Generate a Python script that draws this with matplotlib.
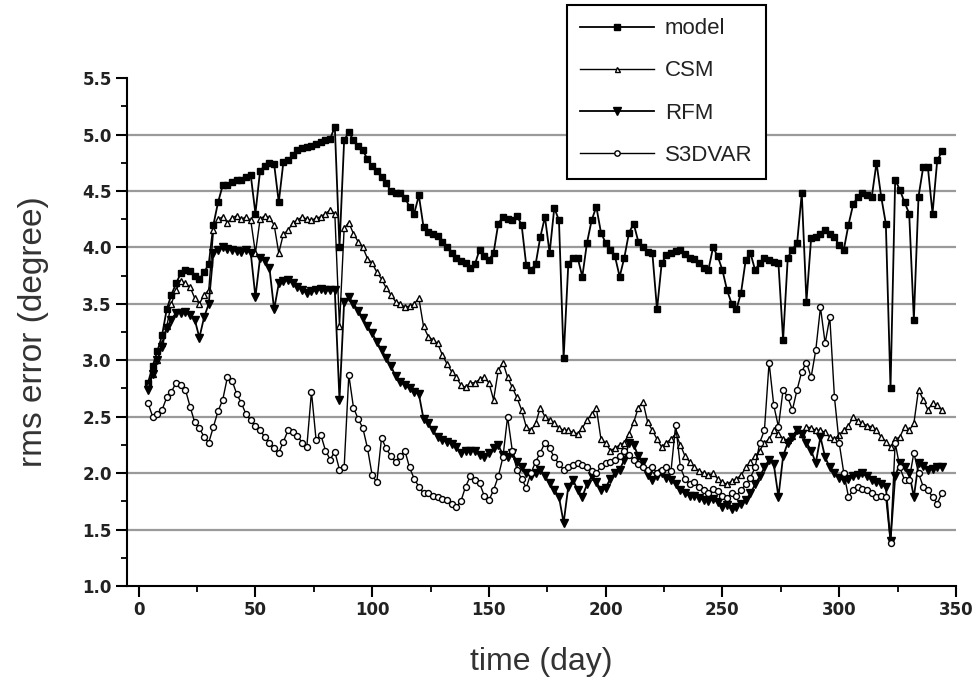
import matplotlib
matplotlib.use('Agg')
import matplotlib.pyplot as plt
from matplotlib.ticker import MultipleLocator
import numpy as np

plt.rcParams.update({'font.family': ['Liberation Sans', 'DejaVu Sans']})

# daily rms error, read every second day (day 4 .. 344)
days = np.arange(4, 346, 2)

model = [
    2.80, 2.95, 3.08, 3.22, 3.45, 3.58, 3.68, 3.77, 3.80, 3.79,
    3.75, 3.72, 3.78, 3.85, 4.20, 4.40, 4.55, 4.55, 4.58, 4.60,
    4.60, 4.62, 4.64, 4.30, 4.68, 4.72, 4.75, 4.74, 4.40, 4.76,
    4.77, 4.82, 4.86, 4.88, 4.89, 4.90, 4.92, 4.93, 4.95, 4.96,
    5.07, 4.00, 4.95, 5.02, 4.95, 4.90, 4.86, 4.78, 4.72, 4.68,
    4.62, 4.57, 4.50, 4.48, 4.48, 4.44, 4.36, 4.30, 4.46, 4.18,
    4.14, 4.12, 4.10, 4.05, 4.00, 3.95, 3.91, 3.88, 3.86, 3.82,
    3.85, 3.98, 3.92, 3.89, 3.95, 4.21, 4.27, 4.25, 4.24, 4.28,
    4.20, 3.84, 3.80, 3.85, 4.09, 4.27, 3.95, 4.35, 4.24, 3.02,
    3.85, 3.91, 3.91, 3.74, 4.04, 4.24, 4.36, 4.13, 4.04, 3.98,
    3.92, 3.74, 3.91, 4.13, 4.21, 4.05, 4.00, 3.96, 3.95, 3.45,
    3.86, 3.93, 3.95, 3.97, 3.98, 3.94, 3.91, 3.90, 3.86, 3.82,
    3.80, 4.00, 3.92, 3.80, 3.62, 3.50, 3.45, 3.60, 3.89, 3.95,
    3.80, 3.86, 3.91, 3.89, 3.87, 3.86, 3.18, 3.91, 3.98, 4.04,
    4.48, 3.52, 4.08, 4.09, 4.12, 4.15, 4.12, 4.09, 4.02, 3.98,
    4.20, 4.38, 4.45, 4.48, 4.46, 4.45, 4.75, 4.45, 4.21, 2.75,
    4.60, 4.51, 4.40, 4.30, 3.36, 4.45, 4.71, 4.71, 4.30, 4.77,
    4.85,
]

csm = [
    2.78, 2.88, 3.00, 3.15, 3.30, 3.50, 3.62, 3.70, 3.68, 3.65,
    3.55, 3.50, 3.58, 3.62, 4.15, 4.25, 4.27, 4.22, 4.26, 4.28,
    4.25, 4.27, 4.24, 3.95, 4.25, 4.28, 4.26, 4.20, 3.95, 4.12,
    4.15, 4.22, 4.24, 4.27, 4.25, 4.24, 4.26, 4.27, 4.30, 4.33,
    4.30, 3.30, 4.17, 4.22, 4.12, 4.05, 4.00, 3.90, 3.86, 3.78,
    3.72, 3.64, 3.58, 3.52, 3.50, 3.47, 3.48, 3.50, 3.55, 3.30,
    3.21, 3.18, 3.15, 3.05, 2.97, 2.90, 2.85, 2.78, 2.76, 2.80,
    2.80, 2.83, 2.85, 2.80, 2.65, 2.91, 2.98, 2.85, 2.76, 2.67,
    2.56, 2.41, 2.38, 2.44, 2.58, 2.50, 2.47, 2.44, 2.40, 2.38,
    2.38, 2.36, 2.35, 2.40, 2.47, 2.52, 2.58, 2.30, 2.27, 2.20,
    2.22, 2.25, 2.27, 2.35, 2.45, 2.58, 2.63, 2.45, 2.38, 2.30,
    2.23, 2.27, 2.30, 2.35, 2.25, 2.15, 2.10, 2.05, 2.02, 2.00,
    1.98, 2.00, 1.95, 1.92, 1.90, 1.93, 1.95, 1.98, 2.05, 2.10,
    2.15, 2.20, 2.27, 2.30, 2.38, 2.35, 2.30, 2.29, 2.33, 2.38,
    2.35, 2.41, 2.40, 2.38, 2.38, 2.36, 2.32, 2.30, 2.34, 2.38,
    2.42, 2.50, 2.46, 2.44, 2.42, 2.41, 2.38, 2.32, 2.28, 2.23,
    2.30, 2.32, 2.41, 2.38, 2.44, 2.74, 2.65, 2.56, 2.62, 2.60,
    2.56,
]

rfm = [
    2.74, 2.88, 3.00, 3.12, 3.29, 3.36, 3.42, 3.42, 3.43, 3.40,
    3.36, 3.20, 3.38, 3.50, 3.95, 3.98, 4.00, 3.99, 3.98, 3.97,
    3.96, 3.98, 3.95, 3.56, 3.91, 3.88, 3.82, 3.45, 3.68, 3.70,
    3.71, 3.68, 3.65, 3.62, 3.60, 3.61, 3.62, 3.63, 3.62, 3.62,
    3.62, 2.65, 3.52, 3.56, 3.50, 3.44, 3.37, 3.30, 3.24, 3.16,
    3.09, 3.02, 2.95, 2.86, 2.81, 2.78, 2.75, 2.72, 2.70, 2.48,
    2.44, 2.38, 2.32, 2.29, 2.28, 2.26, 2.23, 2.18, 2.20, 2.20,
    2.20, 2.16, 2.14, 2.18, 2.22, 2.25, 2.16, 2.14, 2.18, 2.10,
    2.05, 2.00, 1.97, 2.00, 2.03, 1.97, 1.91, 1.85, 1.79, 1.56,
    1.88, 1.94, 1.85, 1.79, 1.90, 1.97, 1.92, 1.85, 1.87, 1.95,
    2.00, 2.03, 2.12, 2.27, 2.25, 2.15, 2.10, 1.98, 1.94, 1.97,
    2.00, 1.96, 1.94, 1.90, 1.85, 1.82, 1.80, 1.80, 1.78, 1.76,
    1.75, 1.77, 1.74, 1.70, 1.72, 1.68, 1.70, 1.73, 1.76, 1.82,
    1.90, 1.97, 2.05, 2.12, 2.08, 1.79, 2.15, 2.27, 2.32, 2.38,
    2.35, 2.27, 2.20, 2.09, 2.32, 2.14, 2.05, 2.00, 1.96, 1.94,
    1.95, 1.97, 1.98, 2.00, 1.97, 1.94, 1.92, 1.90, 1.88, 1.40,
    1.97, 2.09, 2.05, 2.00, 1.79, 2.09, 2.06, 2.03, 2.04, 2.05,
    2.05,
]

s3dvar = [
    2.62, 2.50, 2.52, 2.56, 2.67, 2.72, 2.80, 2.78, 2.74, 2.59,
    2.45, 2.40, 2.32, 2.27, 2.41, 2.55, 2.65, 2.85, 2.82, 2.70,
    2.62, 2.52, 2.47, 2.42, 2.38, 2.32, 2.27, 2.22, 2.18, 2.28,
    2.38, 2.36, 2.33, 2.27, 2.23, 2.72, 2.29, 2.34, 2.20, 2.12,
    2.19, 2.03, 2.05, 2.87, 2.58, 2.48, 2.40, 2.22, 1.98, 1.92,
    2.31, 2.22, 2.15, 2.10, 2.15, 2.20, 2.05, 1.95, 1.88, 1.82,
    1.82, 1.80, 1.79, 1.77, 1.76, 1.73, 1.70, 1.75, 1.88, 1.97,
    1.94, 1.91, 1.80, 1.76, 1.85, 1.97, 2.14, 2.50, 2.20, 2.03,
    1.95, 1.87, 2.00, 2.10, 2.18, 2.27, 2.22, 2.14, 2.08, 2.03,
    2.05, 2.07, 2.09, 2.07, 2.05, 2.02, 2.00, 2.06, 2.09, 2.10,
    2.12, 2.15, 2.20, 2.16, 2.12, 2.08, 2.05, 2.03, 2.05, 2.00,
    2.03, 2.05, 2.02, 2.43, 2.05, 1.95, 1.90, 1.92, 1.88, 1.85,
    1.82, 1.86, 1.84, 1.80, 1.78, 1.82, 1.80, 1.85, 1.90, 1.96,
    2.05, 2.27, 2.38, 2.98, 2.60, 2.41, 2.74, 2.67, 2.56, 2.74,
    2.90, 2.98, 2.85, 3.09, 3.47, 3.15, 3.38, 2.67, 2.27, 2.00,
    1.79, 1.85, 1.88, 1.86, 1.85, 1.82, 1.79, 1.80, 1.79, 1.38,
    2.27, 2.05, 1.94, 1.94, 2.18, 2.00, 1.88, 1.85, 1.79, 1.73,
    1.82,
]

fig = plt.figure(figsize=(9.74, 6.79), dpi=100)
ax = fig.add_axes([0.1304, 0.137, 0.851, 0.748])

for y in np.arange(1.5, 5.01, 0.5):
    ax.axhline(y, color='#9a9a9a', lw=1.6, zorder=0)

ax.plot(days, model, '-', color='black', lw=1.3, marker='s', ms=5,
        mfc='black', mec='black', label='model', zorder=2)
ax.plot(days, csm, '-', color='black', lw=1.0, marker='^', ms=4,
        mfc='white', mec='black', mew=1.0, label='CSM', zorder=3)
ax.plot(days, rfm, '-', color='black', lw=1.3, marker='v', ms=6,
        mfc='black', mec='black', label='RFM', zorder=4)
ax.plot(days, s3dvar, '-', color='black', lw=1.0, marker='o', ms=4.3,
        mfc='white', mec='black', mew=1.0, label='S3DVAR', zorder=5)

ax.set_xlim(-5, 350)
ax.set_ylim(1.0, 5.5)
ax.xaxis.set_major_locator(MultipleLocator(50))
ax.xaxis.set_minor_locator(MultipleLocator(25))
ax.yaxis.set_major_locator(MultipleLocator(0.5))
ax.yaxis.set_minor_locator(MultipleLocator(0.25))
ax.yaxis.set_major_formatter(matplotlib.ticker.FormatStrFormatter('%.1f'))

for s in ['top', 'right']:
    ax.spines[s].set_visible(False)
for s in ['left', 'bottom']:
    ax.spines[s].set_linewidth(1.5)
ax.tick_params(which='major', direction='out', length=8, width=1.5,
               labelsize=12, colors='black', pad=3)
ax.tick_params(which='minor', direction='out', length=4.5, width=1.3)
for lab in ax.get_xticklabels() + ax.get_yticklabels():
    lab.set_fontweight('bold')
    lab.set_family('DejaVu Sans')
    lab.set_color('#222222')

ax.set_xlabel('time (day)', fontsize=23, color='#333333', labelpad=20)
ax.set_ylabel('rms error (degree)', fontsize=24, color='#333333', labelpad=24)

leg = ax.legend(loc='upper left', bbox_to_anchor=(567 / 974, 1 - 5 / 679),
                bbox_transform=fig.transFigure, fontsize=16, frameon=True,
                fancybox=False, handlelength=3.3, handletextpad=0.5,
                borderpad=0.6, labelspacing=0.95, markerscale=0.9,
                borderaxespad=0)
leg.get_frame().set_edgecolor('black')
leg.get_frame().set_linewidth(1.5)
leg.get_frame().set_alpha(1.0)
for t in leg.get_texts():
    t.set_color('#222222')

fig.savefig('out.png', dpi=100)
